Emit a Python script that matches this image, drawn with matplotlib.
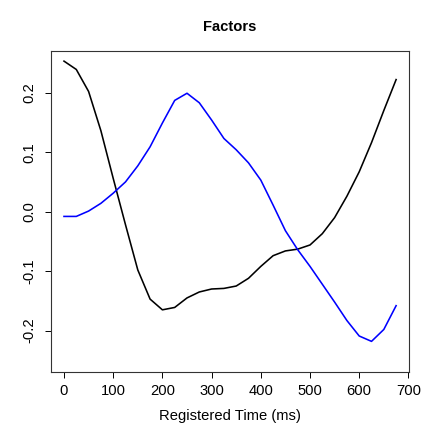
import matplotlib
matplotlib.use("Agg")
import matplotlib.pyplot as plt

# time points (ms) and the two factor curves
time_ms = list(range(0, 700, 25))
factor_black = [0.253, 0.239, 0.202, 0.136, 0.056, -0.022, -0.098, -0.147,
                -0.165, -0.161, -0.145, -0.135, -0.130, -0.129, -0.125, -0.112,
                -0.092, -0.074, -0.066, -0.063, -0.056, -0.037, -0.010, 0.026,
                0.067, 0.116, 0.170, 0.222]
factor_blue = [-0.008, -0.008, 0.001, 0.014, 0.031, 0.050, 0.077, 0.109,
               0.149, 0.187, 0.199, 0.183, 0.154, 0.123, 0.104, 0.082,
               0.053, 0.011, -0.032, -0.064, -0.092, -0.122, -0.152, -0.183,
               -0.209, -0.218, -0.198, -0.158]
xticks = [0, 100, 200, 300, 400, 500, 600, 700]
yticks = [-0.2, -0.1, 0.0, 0.1, 0.2]

plt.rcParams['font.family'] = ['Liberation Sans', 'DejaVu Sans']

fig = plt.figure(figsize=(4.36, 4.36), dpi=100)
ax = fig.add_axes([0.1163, 0.1461, 0.8227, 0.7369])

ax.plot(time_ms, factor_black, color='black', lw=1.15)
ax.plot(time_ms, factor_blue, color='#0000FF', lw=1.15)

ax.set_xlim(-27, 702)
ax.set_ylim(-0.27, 0.27)
ax.set_xticks(xticks)
ax.set_yticks(yticks)
ax.set_yticklabels(['%.1f' % v for v in yticks], rotation=90, va='center')
ax.tick_params(axis='both', direction='out', length=4.3, width=0.7,
               labelsize=10.6, color='black')
ax.tick_params(axis='x', pad=4.3)
ax.tick_params(axis='y', pad=6.3)
for s in ax.spines.values():
    s.set_linewidth(0.8)
    s.set_color('#333333')

ax.set_xlabel('Registered Time (ms)', fontsize=10.6, labelpad=7.5)
fig.text(0.527, 0.938, 'Factors', ha='center', va='center',
         fontsize=10.6, fontweight='bold')

fig.savefig('out.png', dpi=100)
